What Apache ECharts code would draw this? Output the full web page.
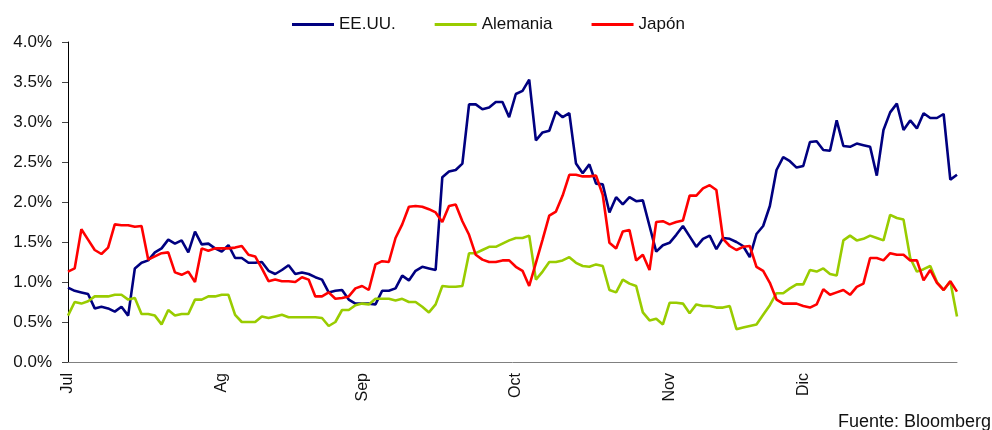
<!DOCTYPE html>
<html>
<head>
<meta charset="utf-8">
<title>Rentabilidad bonos</title>
<script src="https://cdn.jsdelivr.net/npm/echarts@6/dist/echarts.min.js"></script>
<style>
  html, body { margin: 0; padding: 0; background: #fff; }
  #chart { width: 992px; height: 430px; }
</style>
</head>
<body>
<div id="chart"></div>
<script>
// etiquetas de meses y posicion (indice de dia habil) donde empieza cada uno
const monthLabels = ['Jul', 'Ag', 'Sep', 'Oct', 'Nov', 'Dic'];
const monthStart = [0, 23, 44, 67, 90, 110];
const dayCount = 134;

// valores en %
const eeuu = [
  0.93, 0.89, 0.87, 0.85, 0.67, 0.69, 0.67, 0.63, 0.69, 0.58,
  1.17, 1.24, 1.27, 1.37, 1.42, 1.53, 1.48, 1.52, 1.37, 1.63,
  1.47, 1.48, 1.42, 1.38, 1.46, 1.30, 1.30, 1.24, 1.24, 1.25,
  1.14, 1.10, 1.15, 1.21, 1.10, 1.12, 1.10, 1.06, 1.03, 0.87,
  0.89, 0.90, 0.78, 0.73, 0.73, 0.73, 0.72, 0.89, 0.89, 0.92,
  1.08, 1.02, 1.14, 1.19, 1.17, 1.15, 2.31, 2.38, 2.40, 2.48,
  3.22, 3.22, 3.16, 3.18, 3.25, 3.25, 3.06, 3.35, 3.39, 3.53,
  2.77, 2.87, 2.89, 3.13, 3.06, 3.11, 2.48, 2.36, 2.47, 2.23,
  2.22, 1.87, 2.06, 1.97, 2.06, 2.01, 2.02, 1.70, 1.38, 1.46,
  1.49, 1.59, 1.70, 1.57, 1.44, 1.54, 1.58, 1.41, 1.55, 1.54,
  1.50, 1.45, 1.31, 1.60, 1.70, 1.95, 2.40, 2.56, 2.51, 2.43,
  2.45, 2.75, 2.76, 2.65, 2.64, 3.02, 2.70, 2.69, 2.73, 2.71,
  2.69, 2.33, 2.90, 3.12, 3.23, 2.90, 3.02, 2.92, 3.11, 3.05,
  3.05, 3.10, 2.28, 2.34
];
const alemania = [
  0.58, 0.75, 0.73, 0.76, 0.82, 0.82, 0.82, 0.84, 0.84, 0.78,
  0.80, 0.60, 0.60, 0.58, 0.47, 0.65, 0.58, 0.60, 0.60, 0.78,
  0.78, 0.82, 0.82, 0.84, 0.84, 0.59, 0.50, 0.50, 0.50, 0.57,
  0.55, 0.57, 0.59, 0.56, 0.56, 0.56, 0.56, 0.56, 0.55, 0.45,
  0.50, 0.65, 0.65, 0.71, 0.73, 0.72, 0.79, 0.79, 0.79, 0.77,
  0.79, 0.75, 0.75, 0.69, 0.62, 0.72, 0.95, 0.94, 0.94, 0.95,
  1.36, 1.36, 1.40, 1.44, 1.44, 1.48, 1.52, 1.55, 1.55, 1.58,
  1.03, 1.13, 1.25, 1.25, 1.27, 1.31, 1.24, 1.20, 1.19, 1.22,
  1.20, 0.90, 0.87, 1.03, 0.98, 0.95, 0.62, 0.52, 0.54, 0.47,
  0.74, 0.74, 0.73, 0.61, 0.72, 0.70, 0.70, 0.68, 0.68, 0.70,
  0.41, 0.43, 0.45, 0.47, 0.59, 0.71, 0.86, 0.86, 0.92, 0.97,
  0.97, 1.15, 1.13, 1.17, 1.10, 1.08, 1.52, 1.58, 1.52, 1.54,
  1.58, 1.55, 1.52, 1.84, 1.80, 1.78, 1.30, 1.13, 1.16, 1.20,
  1.00, 0.90, 1.01, 0.57
];
const japon = [
  1.13, 1.17, 1.66, 1.53, 1.40, 1.35, 1.43, 1.72, 1.71, 1.71,
  1.69, 1.70, 1.28, 1.32, 1.36, 1.37, 1.12, 1.09, 1.13, 1.00,
  1.42, 1.39, 1.42, 1.42, 1.42, 1.43, 1.45, 1.34, 1.32, 1.17,
  1.01, 1.03, 1.01, 1.01, 1.00, 1.06, 1.03, 0.82, 0.82, 0.87,
  0.79, 0.80, 0.82, 0.92, 0.95, 0.90, 1.22, 1.26, 1.25, 1.55,
  1.72, 1.94, 1.95, 1.94, 1.91, 1.87, 1.75, 1.95, 1.97, 1.76,
  1.59, 1.34, 1.28, 1.25, 1.25, 1.27, 1.27, 1.19, 1.14, 0.95,
  1.24, 1.53, 1.83, 1.88, 2.08, 2.34, 2.34, 2.32, 2.32, 2.33,
  2.09, 1.49, 1.42, 1.63, 1.65, 1.27, 1.34, 1.15, 1.75, 1.76,
  1.72, 1.75, 1.77, 2.08, 2.08, 2.17, 2.21, 2.15, 1.54, 1.45,
  1.40, 1.44, 1.45, 1.19, 1.14, 0.99, 0.78, 0.73, 0.73, 0.73,
  0.70, 0.68, 0.72, 0.91, 0.84, 0.87, 0.90, 0.84, 0.94, 0.98,
  1.30, 1.30, 1.27, 1.36, 1.34, 1.34, 1.27, 1.27, 1.02, 1.15,
  0.99, 0.90, 1.01, 0.88
];

// eje de categorias: un hueco por dia, con el nombre del mes donde empieza
const categories = [];
for (let i = 0; i < dayCount; i++) {
  const m = monthStart.indexOf(i);
  categories.push(m >= 0 ? monthLabels[m] : '');
}

const FONT = '"Liberation Sans", Arial, sans-serif';
const chart = echarts.init(document.getElementById('chart'), null, { renderer: 'canvas' });

function lineSerie(name, data, color) {
  return {
    name: name,
    type: 'line',
    data: data,
    symbol: 'none',
    showSymbol: false,
    lineStyle: { color: color, width: 2.6 },
    itemStyle: { color: color },
    emphasis: { disabled: true },
    animation: false
  };
}

chart.setOption({
  animation: false,
  textStyle: { fontFamily: FONT },
  legend: {
    left: 287,
    top: 11,
    icon: 'rect',
    itemWidth: 42,
    itemHeight: 3,
    itemGap: 39,
    textStyle: { fontSize: 17, color: '#111', fontFamily: FONT },
    data: ['EE.UU.', 'Alemania', 'Japón']
  },
  grid: {
    left: 68,
    right: 35,
    top: 42,
    bottom: 68,
    outerBoundsMode: 'none'
  },
  xAxis: {
    type: 'category',
    data: categories,
    boundaryGap: false,
    axisLine: { lineStyle: { color: '#808080', width: 1 } },
    axisTick: { show: false },
    axisLabel: {
      interval: function (idx, value) { return value !== ''; },
      rotate: 90,
      margin: 11,
      fontSize: 16,
      color: '#111',
      fontFamily: FONT
    },
    splitLine: { show: false }
  },
  yAxis: {
    type: 'value',
    min: 0,
    max: 4,
    interval: 0.5,
    axisLine: { show: true, lineStyle: { color: '#000', width: 1 } },
    axisTick: { show: true, length: 6, lineStyle: { color: '#444' } },
    axisLabel: {
      margin: 16,
      fontSize: 17,
      color: '#111',
      fontFamily: FONT,
      formatter: function (v) { return v.toFixed(1) + '%'; }
    },
    splitLine: { show: false }
  },
  graphic: [{
    type: 'text',
    left: 838,
    top: 413,
    style: {
      text: 'Fuente: Bloomberg',
      font: '18px ' + FONT,
      fill: '#111'
    }
  }],
  series: [
    lineSerie('EE.UU.', eeuu, '#000080'),
    lineSerie('Alemania', alemania, '#99CC00'),
    lineSerie('Japón', japon, '#FF0000')
  ]
});
</script>
</body>
</html>
